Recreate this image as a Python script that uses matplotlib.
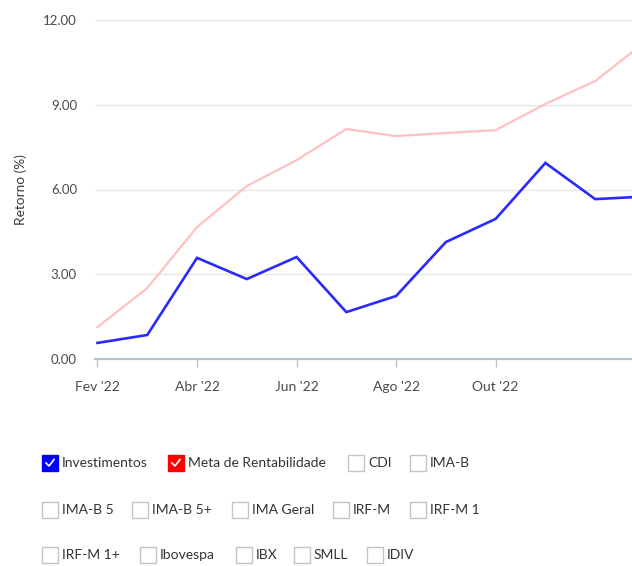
import matplotlib
matplotlib.use("Agg")
import matplotlib.pyplot as plt
from matplotlib.patches import Rectangle
from matplotlib.lines import Line2D

plt.rcParams['font.family'] = ['Lato', 'DejaVu Sans']

W, H = 632, 566

# monthly returns (%), Feb '22 .. Jan '23
months = ["Fev '22", "Mar '22", "Abr '22", "Mai '22", "Jun '22", "Jul '22",
          "Ago '22", "Set '22", "Out '22", "Nov '22", "Dez '22", "Jan '23"]
investimentos = [0.57, 0.85, 3.58, 2.83, 3.61, 1.66, 2.23, 4.14, 4.96, 6.94, 5.66, 5.75]
meta = [1.13, 2.51, 4.67, 6.12, 7.04, 8.14, 7.89, 8.00, 8.10, 9.03, 9.84, 11.22]

yticks = [0, 3, 6, 9, 12]

# legend rows: (label, checked colour or None)
legend_rows = [
    [("Investimentos", "#0000ff"), ("Meta de Rentabilidade", "#ff0000"), ("CDI", None), ("IMA-B", None)],
    [("IMA-B 5", None), ("IMA-B 5+", None), ("IMA Geral", None), ("IRF-M", None), ("IRF-M 1", None)],
    [("IRF-M 1+", None), ("Ibovespa", None), ("IBX", None), ("SMLL", None), ("IDIV", None)],
]
legend_x = [
    [42, 168, 348, 410],
    [42, 132, 232, 333, 410],
    [42, 140, 236, 294, 367],
]
legend_y = [463, 510, 555]

fig = plt.figure(figsize=(W / 100, H / 100), dpi=100)
ax = fig.add_axes([95 / W, 1 - 359 / H, (W - 95) / W, (359 - 20) / H])

x = list(range(len(months)))
ax.plot(x, meta, color="#ffc0c0", lw=1.6, solid_joinstyle="miter")
ax.plot(x, investimentos, color="#2a2aff", lw=1.9, solid_joinstyle="miter")

ax.set_xlim(-0.05, 10.74)
ax.set_ylim(0, 12)
ax.set_yticks(yticks)
ax.set_yticklabels([f"{v:.2f}" for v in yticks])
# labels only up to Out '22 (the Dez one is cut at the edge)
ax.set_xticks(x[:10:2])
ax.set_xticklabels(months[:10:2], va="baseline")
ax.grid(axis="y", color="#e6e6e6", lw=1)
ax.set_axisbelow(True)
for s in ["top", "right", "left"]:
    ax.spines[s].set_visible(False)
ax.spines["bottom"].set_color("#b8c4cc")
ax.spines["bottom"].set_linewidth(1.6)
ax.tick_params(axis="y", length=0, pad=13, labelsize=9.5, labelcolor="#4a4a4a")
ax.tick_params(axis="x", length=5.8, width=1, color="#b8c4cc", pad=17,
               labelsize=10, labelcolor="#4a4a4a")
ax.set_ylabel("Retorno (%)", fontsize=9.8, color="#3a3a3a")
ax.yaxis.set_label_coords((27 - 95) / (W - 95), 0.5)


def px(xp, yp):
    return xp / W, 1 - yp / H


box = 16
for row, xs, yc in zip(legend_rows, legend_x, legend_y):
    for (label, col), xb in zip(row, xs):
        x0, y0 = px(xb, yc + box / 2)
        fig.patches.append(Rectangle((x0, y0), box / W, box / H, transform=fig.transFigure,
                                     facecolor=col if col else "white",
                                     edgecolor=col if col else "#c4c4c4", lw=1))
        if col:
            cx = [xb + 4, xb + 7, xb + 12]
            cy = [yc, yc + 3, yc - 3.5]
            fig.lines.append(Line2D([c / W for c in cx], [1 - c / H for c in cy],
                                    transform=fig.transFigure, color="white", lw=1.2))
        tx, ty = px(xb + 20, yc)
        fig.text(tx, ty, label, fontsize=10, color="#333333", va="center", ha="left")

fig.savefig("out.png", dpi=100)
